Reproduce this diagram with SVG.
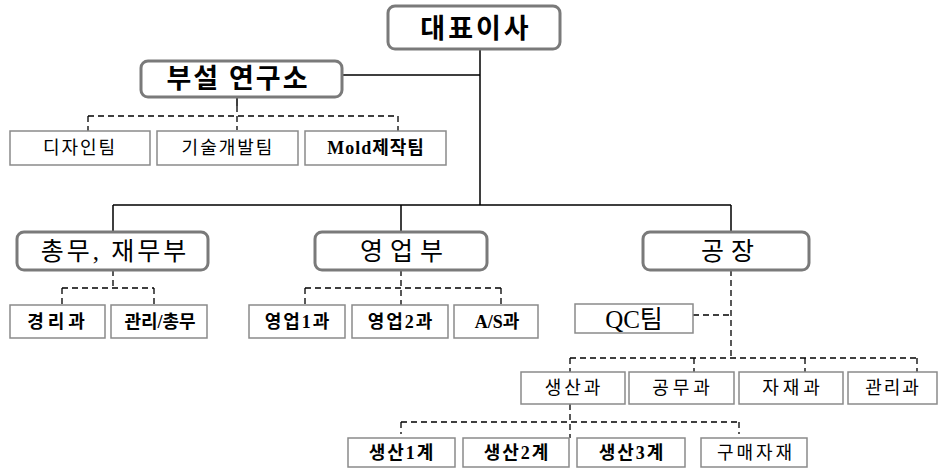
<svg xmlns="http://www.w3.org/2000/svg" width="943" height="468" viewBox="0 0 943 468">
<style>
.rb{fill:#fff;stroke:#7a7a7a;stroke-width:3}
.bx{fill:#fff;stroke:#8a8a8a;stroke-width:1.5}
.t{font-family:"Liberation Serif","Noto Sans CJK KR",serif;fill:#000;text-anchor:middle;dominant-baseline:central}
.b{font-weight:bold}
.L{font-size:27px;letter-spacing:3px}
.M{font-size:25px;letter-spacing:4px}
.S{font-size:18px;letter-spacing:2px}
.sl{stroke:#000;stroke-width:1.5;fill:none}
.dl{stroke:#000;stroke-width:1.3;fill:none;stroke-dasharray:6,4}
</style>
<g id="connectors">
<path class="sl" d="M480 50V205M342 75H480M113 205H731M113 205V232M401 205V232M731 205V232M237 98V106"/>
<path class="dl" d="M237 106V130M88 116H398M88 116V131M398 116V131"/>
<path class="dl" d="M113 270V288M62 288H154M62 288V305M154 288V305"/>
<path class="dl" d="M401 270V305M305 288H501M305 288V305M501 288V305"/>
<path class="dl" d="M731 270V358M693 315H731M570 358H917M570 358V372M694 358V372M805 358V372M917 358V372"/>
<path class="dl" d="M570 404V438M401 422H739M401 422V434M739 422V434"/>
</g>
<g id="n-ceo"><rect class="rb" x="388" y="6" width="172" height="43" rx="7"/><text class="t b L" x="476" y="29">대표이사</text></g>
<g id="n-lab"><rect class="rb" x="141" y="61" width="201" height="36" rx="7"/><text class="t b L" x="238" y="79" style="letter-spacing:2px">부설 연구소</text></g>
<g id="n-design"><rect class="bx" x="10" y="131" width="140" height="34"/><text class="t S" x="80" y="148">디자인팀</text></g>
<g id="n-tech"><rect class="bx" x="157" y="131" width="141" height="34"/><text class="t S" x="228" y="148">기술개발팀</text></g>
<g id="n-mold"><rect class="bx" x="305" y="131" width="141" height="34"/><text class="t b S" x="376" y="148" style="letter-spacing:1px">Mold제작팀</text></g>
<g id="n-general"><rect class="rb" x="17" y="232" width="191" height="38" rx="7"/><text class="t M" x="115" y="251" style="letter-spacing:3px">총무, 재무부</text></g>
<g id="n-sales"><rect class="rb" x="315" y="232" width="172" height="38" rx="7"/><text class="t M" x="405" y="251" style="letter-spacing:7px">영업부</text></g>
<g id="n-factory"><rect class="rb" x="643" y="232" width="166" height="38" rx="7"/><text class="t M" x="731" y="251" style="letter-spacing:7px">공장</text></g>
<g id="n-acct"><rect class="bx" x="10" y="305" width="95" height="33"/><text class="t b S" x="58" y="322" style="letter-spacing:4px">경리과</text></g>
<g id="n-admin"><rect class="bx" x="111" y="305" width="96" height="33"/><text class="t b S" x="160" y="322" style="letter-spacing:0">관리/총무</text></g>
<g id="n-sales1"><rect class="bx" x="249" y="305" width="96" height="33"/><text class="t b S" x="298" y="322">영업1과</text></g>
<g id="n-sales2"><rect class="bx" x="352" y="305" width="96" height="33"/><text class="t b S" x="401" y="322">영업2과</text></g>
<g id="n-as"><rect class="bx" x="454" y="305" width="84" height="33"/><text class="t b S" x="497" y="322" style="letter-spacing:0">A/S과</text></g>
<g id="n-qc"><rect class="bx" x="575" y="304" width="118" height="29"/><text class="t M" x="634" y="319" style="letter-spacing:0">QC팀</text></g>
<g id="n-prod"><rect class="bx" x="521" y="372" width="104" height="32"/><text class="t S" x="574" y="388" style="letter-spacing:3px">생산과</text></g>
<g id="n-works"><rect class="bx" x="629" y="372" width="105" height="32"/><text class="t S" x="683" y="388" style="letter-spacing:4px">공무과</text></g>
<g id="n-mat"><rect class="bx" x="739" y="372" width="104" height="32"/><text class="t S" x="793" y="388" style="letter-spacing:4px">자재과</text></g>
<g id="n-mgmt"><rect class="bx" x="848" y="372" width="89" height="32"/><text class="t S" x="893" y="388">관리과</text></g>
<g id="n-p1"><rect class="bx" x="348" y="438" width="107" height="29"/><text class="t b S" x="402" y="453">생산1계</text></g>
<g id="n-p2"><rect class="bx" x="463" y="438" width="106" height="29"/><text class="t b S" x="517" y="453">생산2계</text></g>
<g id="n-p3"><rect class="bx" x="577" y="438" width="108" height="29"/><text class="t b S" x="632" y="453">생산3계</text></g>
<g id="n-buy"><rect class="bx" x="701" y="438" width="106" height="29"/><text class="t S" x="756" y="453" style="letter-spacing:3px">구매자재</text></g>
</svg>
